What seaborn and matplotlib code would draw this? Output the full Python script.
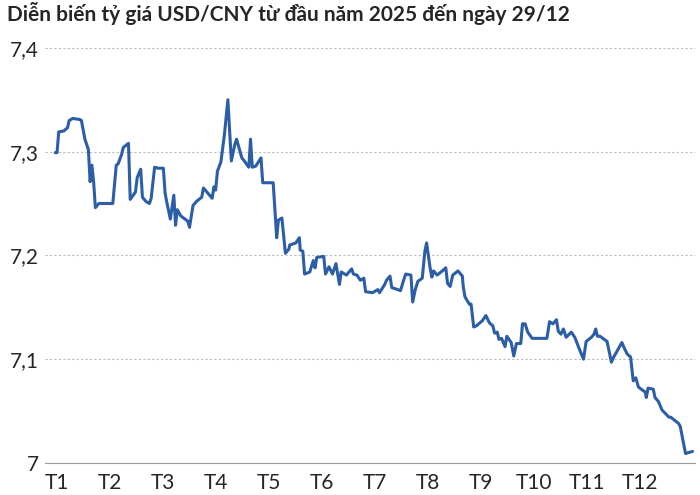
import matplotlib
matplotlib.use("Agg")
import matplotlib.pyplot as plt
import seaborn as sns
import pandas as pd

# day of year (approx) and USD/CNY rate
days = [-1, 0, 1, 4, 6, 7, 9, 13, 14, 16, 18, 19, 20, 21, 22, 24, 32, 34, 35, 37, 38, 41, 42, 45, 46, 48,
        49, 51, 53, 54, 56, 58, 61, 62, 63, 65, 67, 68, 69, 71, 75, 76, 78, 80, 83, 84, 85, 89, 90, 91, 92,
        94, 96, 98, 100, 102, 103, 106, 107, 110, 111, 112, 114, 117, 118, 124, 126, 127, 129, 131, 133,
        133.5, 137, 139, 139.5, 141, 142, 145, 147, 148, 149, 153, 154, 156, 158, 160, 162, 163, 165, 166,
        169, 170, 172, 174, 176, 177, 181, 182, 184, 185, 188, 189, 191, 192, 197, 199, 200, 203, 204,
        205.5, 207, 209.5, 211, 212, 214, 215, 216, 218, 221, 223, 224, 225.5, 227, 230, 231, 232.5, 233,
        234, 236.5, 237.5, 239, 240.5, 244, 246, 248, 250, 251, 252.5, 253.5, 255, 257, 258, 260.5, 262,
        263.5, 266, 267, 268.5, 270, 272.5, 281, 282.5, 284.5, 286.5, 287.5, 289, 290.5, 292, 295, 297,
        300, 302, 303.5, 306.5, 308, 309, 310, 311.5, 315.5, 318, 319, 324, 325, 327, 329, 330.5, 332,
        333.5, 337.5, 338, 339, 342, 343, 345, 347, 351, 352, 356.5, 357.5, 360.5, 364.5]
rates = [7.299, 7.299, 7.319, 7.320, 7.323, 7.330, 7.332, 7.331, 7.330, 7.312, 7.302, 7.271, 7.287, 7.271,
         7.246, 7.250, 7.250, 7.287, 7.288, 7.297, 7.304, 7.308, 7.254, 7.261, 7.275, 7.283, 7.256, 7.252,
         7.250, 7.255, 7.285, 7.284, 7.284, 7.260, 7.251, 7.235, 7.258, 7.229, 7.244, 7.238, 7.233, 7.227,
         7.248, 7.252, 7.256, 7.265, 7.263, 7.255, 7.266, 7.263, 7.281, 7.290, 7.316, 7.350, 7.291, 7.307,
         7.312, 7.294, 7.292, 7.285, 7.312, 7.285, 7.286, 7.294, 7.270, 7.270, 7.217, 7.234, 7.236, 7.202,
         7.206, 7.210, 7.212, 7.217, 7.205, 7.204, 7.182, 7.184, 7.195, 7.188, 7.198, 7.199, 7.182, 7.189,
         7.182, 7.192, 7.172, 7.184, 7.182, 7.181, 7.187, 7.182, 7.181, 7.176, 7.178, 7.165, 7.164, 7.165,
         7.167, 7.164, 7.172, 7.176, 7.180, 7.169, 7.166, 7.177, 7.182, 7.181, 7.155, 7.167, 7.175, 7.178,
         7.204, 7.212, 7.188, 7.179, 7.185, 7.181, 7.185, 7.188, 7.173, 7.170, 7.181, 7.185, 7.183, 7.180,
         7.170, 7.160, 7.153, 7.153, 7.131, 7.132, 7.137, 7.142, 7.135, 7.132, 7.125, 7.126, 7.119, 7.120,
         7.112, 7.122, 7.116, 7.103, 7.115, 7.115, 7.134, 7.134, 7.126, 7.120, 7.120, 7.136, 7.134, 7.138,
         7.127, 7.124, 7.129, 7.121, 7.126, 7.121, 7.108, 7.100, 7.117, 7.121, 7.124, 7.129, 7.122, 7.122,
         7.117, 7.097, 7.101, 7.116, 7.112, 7.105, 7.102, 7.079, 7.082, 7.073, 7.068, 7.063, 7.072, 7.071,
         7.063, 7.059, 7.051, 7.044, 7.044, 7.038, 7.035, 7.009, 7.011]

month_labels = ["T1", "T2", "T3", "T4", "T5", "T6", "T7", "T8", "T9", "T10", "T11", "T12"]
y_ticks = [7.0, 7.1, 7.2, 7.3, 7.4]
y_labels = ["7", "7,1", "7,2", "7,3", "7,4"]

df = pd.DataFrame({"day": days, "rate": rates})

sns.set_style("white")
plt.rcParams["font.family"] = ["Lato", "DejaVu Sans"]

fig = plt.figure(figsize=(7, 4.95), dpi=100)
ax = fig.add_axes([0.064, 0.065, 0.929, 0.855])

sns.lineplot(data=df, x="day", y="rate", ax=ax, color="#2b5ea7", linewidth=2.2, sort=False)

ax.set_xlim(-7, 366)
ax.set_ylim(7.0, 7.408)
ax.set_xticks([i * 365 / 12 for i in range(12)])
ax.set_xticklabels(month_labels, fontsize=15)
ax.set_yticks(y_ticks)
ax.set_yticklabels(y_labels, fontsize=15)
ax.set_xlabel("")
ax.set_ylabel("")

for v in y_ticks[1:]:
    ax.axhline(v, color="#bbbbbb", linestyle=(0, (2, 2)), linewidth=0.8, zorder=0)

for s in ["top", "right", "left"]:
    ax.spines[s].set_visible(False)
ax.spines["bottom"].set_color("#999999")
ax.tick_params(axis="x", length=5, color="#999999", pad=2)
ax.tick_params(axis="y", length=0, pad=4)

fig.text(0.01, 0.995, "Diễn biến tỷ giá USD/CNY từ đầu năm 2025 đến ngày 29/12",
         fontsize=15, fontweight="bold", va="top", ha="left")

fig.savefig("out.png", dpi=100)
